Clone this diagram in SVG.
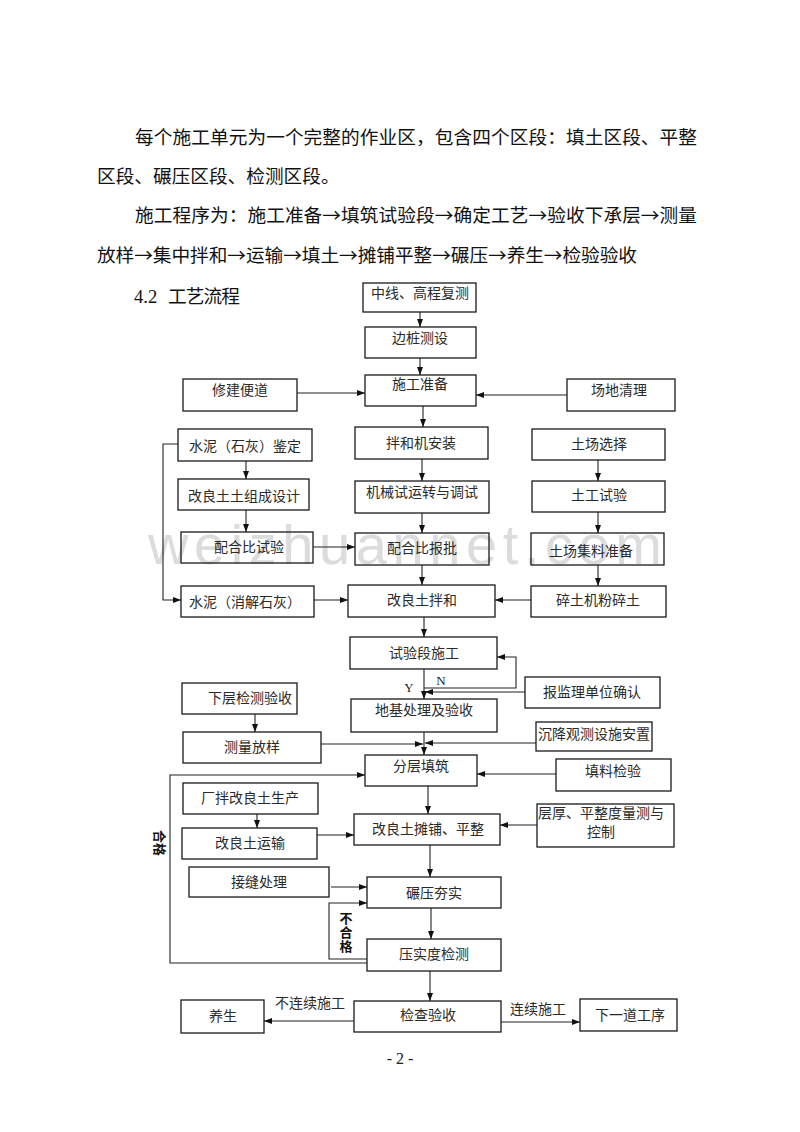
<svg xmlns="http://www.w3.org/2000/svg" width="800" height="1132" viewBox="0 0 800 1132">
<style>
.bg{fill:#ffffff}
.b{fill:none;stroke:#1a1a1a;stroke-width:1.3}
.t{font-family:"Noto Sans CJK SC","Noto Sans CJK JP",sans-serif;font-size:14px;fill:#2a2a2a;text-anchor:middle}
.ts{font-family:"Noto Sans CJK SC","Noto Sans CJK JP",sans-serif;font-size:14px;fill:#2a2a2a}
.p{font-family:"Noto Sans CJK SC","Noto Sans CJK JP",sans-serif;font-size:18.67px;fill:#111}
.n{font-family:"Liberation Serif",serif;font-size:18.67px;fill:#111}
.c{fill:none;stroke:#222;stroke-width:1.1}
.a{marker-end:url(#ah)}
.lb{font-family:"Liberation Serif",serif;font-size:13px;fill:#222;text-anchor:middle}
.bd{font-family:"Noto Sans CJK SC",sans-serif;font-size:13px;font-weight:bold;fill:#111;text-anchor:middle}
.wm{font-family:"Liberation Sans",Arial,sans-serif;font-size:56px;fill:#dcdcdc}
</style>
<defs>
<marker id="ah" markerWidth="8" markerHeight="6" refX="8" refY="3" orient="auto" markerUnits="userSpaceOnUse">
<path d="M0,0 L8,3 L0,6 z" fill="#111"/>
</marker>
</defs>
<rect class="bg" x="0" y="0" width="800" height="1132"/>

<g id="watermark">
<text class="wm" x="148" y="564" textLength="514" lengthAdjust="spacing">weizhuannet.com</text>
</g>

<g id="paragraph">
<text class="p" x="135" y="144" textLength="562" lengthAdjust="spacing">每个施工单元为一个完整的作业区，包含四个区段：填土区段、平整</text>
<text class="p" x="97" y="183">区段、碾压区段、检测区段。</text>
<text class="p" x="135" y="222" textLength="562" lengthAdjust="spacing">施工程序为：施工准备→填筑试验段→确定工艺→验收下承层→测量</text>
<text class="p" x="97" y="262" textLength="540" lengthAdjust="spacing">放样→集中拌和→运输→填土→摊铺平整→碾压→养生→检验验收</text>
<text class="n" x="134" y="303">4.2</text>
<text class="p" x="168" y="303" textLength="72" lengthAdjust="spacing">工艺流程</text>
</g>

<g id="connectors">
<path class="c a" d="M420,312 V327"/>
<path class="c a" d="M420,358 V375"/>
<path class="c a" d="M297,393 H365"/>
<path class="c a" d="M567,395 H476"/>
<path class="c a" d="M423,406 V427"/>
<path class="c a" d="M246,461 V479"/>
<path class="c a" d="M246,510 V532"/>
<path class="c a" d="M178,444 H163 V600 H181"/>
<path class="c a" d="M313,547 H355"/>
<path class="c a" d="M314,600 H348"/>
<path class="c a" d="M422,459 V481"/>
<path class="c a" d="M422,513 V533"/>
<path class="c a" d="M422,565 V585"/>
<path class="c a" d="M598,460 V481"/>
<path class="c a" d="M598,512 V533"/>
<path class="c a" d="M598,565 V586"/>
<path class="c a" d="M531,600 H495"/>
<path class="c a" d="M424,617 V637"/>
<path class="c a" d="M424,669 V699"/>
<path class="c a" d="M424,688 H516 V657 H497"/>
<path class="c a" d="M525,692 H425"/>
<path class="c a" d="M255,714 V732"/>
<path class="c a" d="M321,744 H423"/>
<path class="c a" d="M536,743 H425"/>
<path class="c a" d="M424,732 V755"/>
<path class="c a" d="M556,774 H477"/>
<path class="c a" d="M367,963 H170 V775 H365"/>
<path class="c a" d="M257,814 V828"/>
<path class="c a" d="M428,786 V814"/>
<path class="c a" d="M317,835 H354"/>
<path class="c a" d="M537,825 H500"/>
<path class="c a" d="M430,845 V877"/>
<path class="c a" d="M331,887 H367"/>
<path class="c a" d="M367,959 H329 V903 H367"/>
<path class="c a" d="M431,908 V939"/>
<path class="c a" d="M430,971 V1001"/>
<path class="c a" d="M354,1021 H264"/>
<path class="c a" d="M501,1022 H580"/>
</g>

<g id="labels">
<text class="lb" x="409" y="692">Y</text>
<text class="lb" x="441" y="685">N</text>
<text class="bd" transform="translate(160,843) rotate(90)" x="0" y="5">合格</text>
<text class="bd"><tspan x="346" y="923">不</tspan><tspan x="346" y="937">合</tspan><tspan x="346" y="951">格</tspan></text>
<text class="t" x="310" y="1008">不连续施工</text>
<text class="t" x="538" y="1014">连续施工</text>
<text class="lb" x="400" y="1064" style="font-size:16px">- 2 -</text>
</g>

<g id="n1"><rect class="b" x="363" y="283" width="113" height="29"/><text class="t" x="420" y="298">中线、高程复测</text></g>
<g id="n2"><rect class="b" x="365" y="327" width="111" height="31"/><text class="t" x="420" y="343">边桩测设</text></g>
<g id="n3"><rect class="b" x="365" y="375" width="111" height="31"/><text class="t" x="420" y="389">施工准备</text></g>
<g id="n4"><rect class="b" x="183" y="379" width="114" height="32"/><text class="t" x="240" y="395">修建便道</text></g>
<g id="n5"><rect class="b" x="567" y="379" width="108" height="32"/><text class="t" x="619" y="395">场地清理</text></g>
<g id="n6"><rect class="b" x="178" y="429" width="134" height="32"/><text class="t" x="245" y="451">水泥（石灰）鉴定</text></g>
<g id="n7"><rect class="b" x="178" y="479" width="131" height="31"/><text class="t" x="244" y="501">改良土土组成设计</text></g>
<g id="n8"><rect class="b" x="181" y="532" width="132" height="31"/><text class="t" x="249" y="552">配合比试验</text></g>
<g id="n9"><rect class="b" x="181" y="586" width="133" height="31"/><text class="t" x="245" y="607">水泥（消解石灰）</text></g>
<g id="n10"><rect class="b" x="355" y="427" width="133" height="32"/><text class="t" x="421" y="448">拌和机安装</text></g>
<g id="n11"><rect class="b" x="355" y="481" width="134" height="32"/><text class="t" x="422" y="497">机械试运转与调试</text></g>
<g id="n12"><rect class="b" x="355" y="533" width="134" height="32"/><text class="t" x="422" y="553">配合比报批</text></g>
<g id="n13"><rect class="b" x="348" y="585" width="147" height="32"/><text class="t" x="422" y="605">改良土拌和</text></g>
<g id="n14"><rect class="b" x="532" y="429" width="133" height="31"/><text class="t" x="599" y="449">土场选择</text></g>
<g id="n15"><rect class="b" x="532" y="481" width="133" height="31"/><text class="t" x="599" y="500">土工试验</text></g>
<g id="n16"><rect class="b" x="531" y="533" width="133" height="32"/><text class="t" x="591" y="556">土场集料准备</text></g>
<g id="n17"><rect class="b" x="531" y="586" width="135" height="31"/><text class="t" x="598" y="605">碎土机粉碎土</text></g>
<g id="n18"><rect class="b" x="350" y="637" width="147" height="32"/><text class="t" x="424" y="658">试验段施工</text></g>
<g id="n19"><rect class="b" x="525" y="677" width="135" height="31"/><text class="t" x="592" y="697">报监理单位确认</text></g>
<g id="n20"><rect class="b" x="351" y="699" width="146" height="33"/><text class="t" x="424" y="715">地基处理及验收</text></g>
<g id="n21"><rect class="b" x="182" y="683" width="115" height="31"/><text class="ts" x="208" y="703">下层检测验收</text></g>
<g id="n22"><rect class="b" x="183" y="732" width="138" height="31"/><text class="t" x="252" y="752">测量放样</text></g>
<g id="n23"><rect class="b" x="536" y="722" width="116" height="29"/><text class="t" x="594" y="739">沉降观测设施安置</text></g>
<g id="n24"><rect class="b" x="365" y="755" width="112" height="31"/><text class="t" x="421" y="771">分层填筑</text></g>
<g id="n25"><rect class="b" x="556" y="759" width="115" height="32"/><text class="t" x="613" y="776">填料检验</text></g>
<g id="n26"><rect class="b" x="183" y="783" width="135" height="31"/><text class="t" x="250" y="803">厂拌改良土生产</text></g>
<g id="n27"><rect class="b" x="182" y="828" width="135" height="31"/><text class="t" x="250" y="848">改良土运输</text></g>
<g id="n28"><rect class="b" x="354" y="814" width="146" height="31"/><text class="t" x="428" y="834">改良土摊铺、平整</text></g>
<g id="n29"><rect class="b" x="537" y="804" width="137" height="43"/><text class="ts" x="538" y="818">层厚、平整度量测与</text><text class="t" x="601" y="837">控制</text></g>
<g id="n30"><rect class="b" x="189" y="867" width="140" height="30"/><text class="t" x="259" y="887">接缝处理</text></g>
<g id="n31"><rect class="b" x="367" y="877" width="134" height="31"/><text class="t" x="434" y="898">碾压夯实</text></g>
<g id="n32"><rect class="b" x="367" y="939" width="134" height="32"/><text class="t" x="434" y="959">压实度检测</text></g>
<g id="n33"><rect class="b" x="354" y="1001" width="147" height="31"/><text class="t" x="428" y="1020">检查验收</text></g>
<g id="n34"><rect class="b" x="181" y="1000" width="83" height="33"/><text class="t" x="223" y="1021">养生</text></g>
<g id="n35"><rect class="b" x="580" y="999" width="97" height="32"/><text class="t" x="630" y="1020">下一道工序</text></g>
</svg>
